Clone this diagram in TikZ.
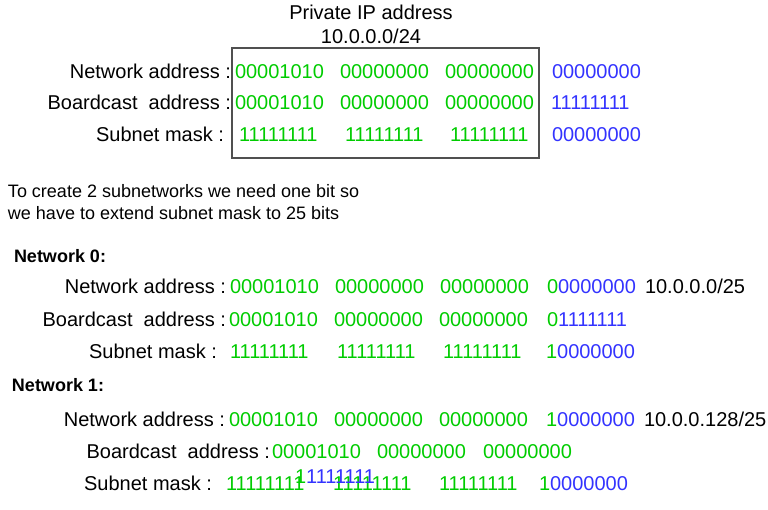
\documentclass[tikz,border=0pt]{standalone}
\usepackage{fontspec}
\setmainfont{Liberation Sans}
\usepackage{tikz}
\usetikzlibrary{positioning}

\definecolor{netgreen}{RGB}{0,204,0}
\definecolor{hostblue}{RGB}{51,51,255}
\definecolor{boxgray}{RGB}{80,80,80}

\begin{document}
\begin{tikzpicture}[x=1pt, y=-1pt, inner sep=0pt, outer sep=0pt,
		txt/.style={font=\fontsize{20}{24}\selectfont, anchor=base west},
		lbl/.style={txt, anchor=base east},
		net/.style={txt, text=netgreen},
		host/.style={txt, text=hostblue},
		note/.style={font=\fontsize{18}{22}\selectfont, anchor=base west},
		head/.style={note, font=\fontsize{18}{22}\selectfont\bfseries},
		byteright/.style 2 args={right=#1 of #2.base west, anchor=base west}]
	\useasboundingbox (0,0) rectangle (768,509);
	
	%Endereco privado
	\node[txt, anchor=base] (title) at (371,19) {Private IP address};
	\node[txt, below=24pt of title.base, anchor=base] (prefix) {10.0.0.0/24};
	\draw[boxgray, line width=1.2pt] (232,48) rectangle (539,158);
	
	\node[lbl] (lna) at (231,78) {Network address :};
	\node[net] (naA) at (235,78) {00001010};
	\node[net, byteright={105pt}{naA}] (naB) {00000000};
	\node[net, byteright={105pt}{naB}] (naC) {00000000};
	\node[host, byteright={107pt}{naC}] (naD) {00000000};
	
	\node[lbl] (lba) at (231,109) {Boardcast~ address :};
	\node[net] (baA) at (235,109) {00001010};
	\node[net, byteright={105pt}{baA}] (baB) {00000000};
	\node[net, byteright={105pt}{baB}] (baC) {00000000};
	\node[host, byteright={106pt}{baC}] (baD) {11111111};
	
	\node[lbl] (lsm) at (224,141) {Subnet mask :};
	\node[net] (smA) at (239,141) {11111111};
	\node[net, byteright={106pt}{smA}] (smB) {11111111};
	\node[net, byteright={105pt}{smB}] (smC) {11111111};
	\node[host, byteright={102pt}{smC}] (smD) {00000000};
	
	\node[note] (why1) at (8,197) {To create 2 subnetworks we need one bit so};
	\node[note] (why2) at (8,219) {we have to extend subnet mask to 25 bits};
	
	%Rede 0
	\node[head] (net0) at (14,262) {Network 0:};
	
	\node[lbl] (zlna) at (226,293) {Network address :};
	\node[net] (znaA) at (230,293) {00001010};
	\node[net, byteright={105pt}{znaA}] (znaB) {00000000};
	\node[net, byteright={105pt}{znaB}] (znaC) {00000000};
	\node[host, byteright={107pt}{znaC}] (znaD) {\color{netgreen}0\color{hostblue}0000000};
	\node[txt, byteright={98pt}{znaD}] (zcidr) {10.0.0.0/25};
	
	\node[lbl] (zlba) at (226,326) {Boardcast~ address :};
	\node[net] (zbaA) at (229,326) {00001010};
	\node[net, byteright={105pt}{zbaA}] (zbaB) {00000000};
	\node[net, byteright={105pt}{zbaB}] (zbaC) {00000000};
	\node[host, byteright={108pt}{zbaC}] (zbaD) {\color{netgreen}0\color{hostblue}1111111};
	
	\node[lbl] (zlsm) at (217,358) {Subnet mask :};
	\node[net] (zsmA) at (230,358) {11111111};
	\node[net, byteright={107pt}{zsmA}] (zsmB) {11111111};
	\node[net, byteright={106pt}{zsmB}] (zsmC) {11111111};
	\node[host, byteright={103pt}{zsmC}] (zsmD) {\color{netgreen}1\color{hostblue}0000000};
	
	%Rede 1
	\node[head] (net1) at (12,391) {Network 1:};
	
	\node[lbl] (olna) at (225,426) {Network address :};
	\node[net] (onaA) at (229,426) {00001010};
	\node[net, byteright={105pt}{onaA}] (onaB) {00000000};
	\node[net, byteright={105pt}{onaB}] (onaC) {00000000};
	\node[host, byteright={107pt}{onaC}] (onaD) {\color{netgreen}1\color{hostblue}0000000};
	\node[txt, byteright={98pt}{onaD}] (ocidr) {10.0.0.128/25};
	
	\node[lbl] (olba) at (270,458) {Boardcast~ address :};
	\node[net] (obaA) at (272,458) {00001010};
	\node[net, byteright={105pt}{obaA}] (obaB) {00000000};
	\node[net, byteright={106pt}{obaB}] (obaC) {00000000};
	
	\node[lbl] (olsm) at (212,490) {Subnet mask :};
	\node[net] (osmA) at (226,490) {11111111};
	\node[net, byteright={107pt}{osmA}] (osmB) {11111111};
	\node[net, byteright={106pt}{osmB}] (osmC) {11111111};
	\node[host, byteright={100pt}{osmC}] (osmD) {\color{netgreen}1\color{hostblue}0000000};
	\node[host] (stray) at (295,483) {\color{netgreen}1\color{hostblue}1111111};
\end{tikzpicture}
\end{document}
